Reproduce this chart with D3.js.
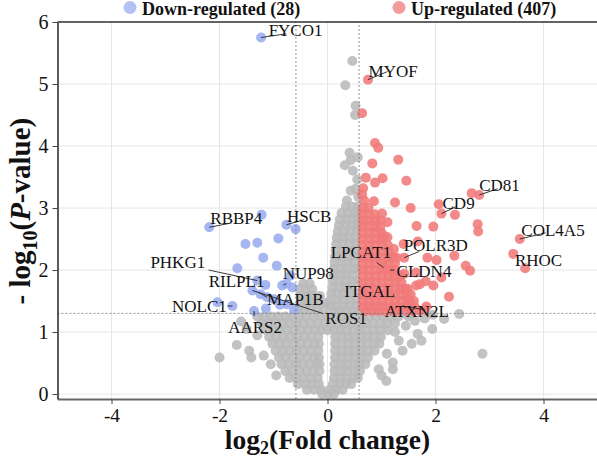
<!DOCTYPE html>
<html>
<head>
<meta charset="utf-8">
<script src="https://cdn.jsdelivr.net/npm/d3@7"></script>
<style>
  body { margin: 0; background: #fff; }
  svg { display: block; }
  svg text { font-family: "Liberation Serif", Tinos, "Times New Roman", Times, "DejaVu Serif", "Noto Serif", serif !important; }
</style>
</head>
<body>
<svg id="chart"></svg>
<script>
// volcano plot: log2 fold change vs -log10 p

var xTicks = [-4, -2, 0, 2, 4];
var yTicks = [0, 1, 2, 3, 4, 5, 6];
var fcCut = 0.585;   // log2(1.5)
var pCut = 1.3;      // -log10(0.05)

var legendLabels = ["Down-regulated (28)", "Up-regulated (407)"];

// not significant, sparse points [log2FC, -log10P]
var graySparse = [
  [0.46, 5.37], [0.33, 4.98], [0.52, 4.65], [0.51, 4.5], [0.41, 3.89], [0.43, 3.77],
  [0.56, 3.82], [0.32, 3.69], [0.47, 3.6], [0.55, 3.46], [0.43, 3.28], [0.52, 3.31],
  [0.57, 3.18], [0.36, 3.12],
  [-2.0, 0.59], [-1.68, 0.79], [-1.45, 0.7], [-1.41, 0.59], [-1.6, 1.17], [-1.05, 0.48],
  [-1.5, 1.05], [-1.3, 0.95], [-0.95, 0.3], [-1.18, 0.62],
  [2.87, 0.65], [2.44, 1.29], [2.16, 1.21], [1.94, 1.05], [1.74, 0.86], [1.56, 0.81],
  [1.39, 0.7], [1.21, 0.51], [1.09, 0.21], [1.21, 0.4], [1.67, 0.97], [1.32, 0.86],
  [1.45, 1.1], [1.62, 1.18], [1.8, 1.22], [1.1, 0.65], [0.95, 0.4], [1.25, 1.0],
  [1.0, 0.3], [1.55, 1.28], [1.95, 1.28]
];

// not significant, dense part: [-log10P, [log2FC ...]]
var grayRows = [
  [3.02, [0.34, 0.46, 0.56]],
  [2.92, [0.26, 0.38, 0.5, 0.57]],
  [2.82, [0.23, 0.35, 0.47, 0.57]],
  [2.72, [0.21, 0.33, 0.45, 0.56]],
  [2.62, [0.19, 0.31, 0.43, 0.55]],
  [2.52, [0.17, 0.29, 0.41, 0.53]],
  [2.42, [0.16, 0.28, 0.4, 0.52]],
  [2.32, [0.15, 0.27, 0.39, 0.51]],
  [2.22, [0.14, 0.26, 0.38, 0.5, 0.57]],
  [2.12, [0.13, 0.25, 0.37, 0.49]],
  [2.02, [0.12, 0.24, 0.36, 0.48, 0.57]],
  [1.92, [0.11, 0.23, 0.35, 0.47]],
  [1.82, [0.1, 0.22, 0.34, 0.46, 0.56]],
  [1.78, [-0.45, -0.33]],
  [1.72, [0.09, 0.21, 0.33, 0.45]],
  [1.69, [-0.52, -0.4, -0.28]],
  [1.62, [0.07, 0.19, 0.31, 0.43, 0.55]],
  [1.58, [-0.5, -0.38, -0.26, -0.14]],
  [1.52, [0.06, 0.18, 0.3, 0.42, 0.53]],
  [1.47, [-0.5, -0.38, -0.26, -0.14, -0.02]],
  [1.42, [0.05, 0.17, 0.29, 0.41, 0.53]],
  [1.36, [-0.55, -0.43, -0.31, -0.19, -0.07]],
  [1.34, [0.11, 0.23, 0.35, 0.47, 0.57]],
  [1.25, [-1.3, -1.17, -1.04, -0.91, -0.78, -0.65, -0.52, -0.39, -0.26, -0.13, 0.0, 0.13, 0.26, 0.39, 0.52, 0.65, 0.78, 0.91, 1.04, 1.17, 1.32, 1.5]],
  [1.14, [-1.22, -1.09, -0.96, -0.83, -0.7, -0.57, -0.44, -0.31, -0.18, -0.06, 0.07, 0.2, 0.33, 0.46, 0.59, 0.72, 0.85, 0.98, 1.11, 1.25]],
  [1.03, [-1.14, -1.01, -0.88, -0.75, -0.62, -0.49, -0.36, -0.23, -0.12, 0.0, 0.12, 0.24, 0.36, 0.48, 0.6, 0.72, 0.85, 0.98, 1.12]],
  [0.92, [-1.08, -0.95, -0.82, -0.69, -0.56, -0.43, -0.3, -0.17, 0.14, 0.26, 0.38, 0.5, 0.62, 0.74, 0.86, 0.99]],
  [0.81, [-1.02, -0.89, -0.76, -0.63, -0.5, -0.37, -0.24, -0.16, 0.14, 0.26, 0.38, 0.5, 0.62, 0.74, 0.86, 0.96]],
  [0.70, [-0.96, -0.83, -0.7, -0.57, -0.44, -0.31, -0.17, 0.14, 0.26, 0.38, 0.5, 0.62, 0.74, 0.87]],
  [0.59, [-0.9, -0.77, -0.64, -0.51, -0.38, -0.25, -0.16, 0.14, 0.26, 0.38, 0.5, 0.62, 0.75]],
  [0.48, [-0.85, -0.72, -0.59, -0.46, -0.33, -0.2, -0.15, 0.13, 0.25, 0.37, 0.49, 0.6, 0.7]],
  [0.37, [-0.78, -0.65, -0.52, -0.39, -0.26, -0.15, 0.13, 0.25, 0.37, 0.49, 0.6]],
  [0.26, [-0.7, -0.57, -0.44, -0.31, -0.18, 0.12, 0.24, 0.36, 0.48, 0.56]],
  [0.16, [-0.55, -0.42, -0.29, -0.16, 0.1, 0.22, 0.34, 0.44]],
  [0.07, [-0.38, -0.25, -0.12, 0.04, 0.16, 0.28]],
  [0.0, [-0.1, 0.02, 0.12]]
];

// up-regulated, sparse points
var upSparse = [
  [0.75, 5.07], [0.64, 4.53], [0.88, 4.05], [0.94, 3.97], [1.31, 3.78], [0.83, 3.72],
  [0.71, 3.49], [0.88, 3.41], [1.02, 3.48], [1.46, 3.44], [0.66, 3.32], [0.86, 3.11],
  [0.68, 3.12], [1.25, 3.09], [1.01, 2.91], [1.54, 3.0], [1.11, 2.77], [1.65, 2.71],
  [1.96, 2.7], [2.06, 3.06], [2.11, 2.91], [2.36, 2.89], [2.67, 3.24], [2.81, 3.21],
  [2.78, 2.74], [2.79, 2.62], [3.56, 2.5], [3.44, 2.26], [3.66, 2.03], [1.67, 2.46],
  [1.41, 2.42], [1.85, 2.2], [2.02, 2.16], [2.35, 2.23], [2.56, 2.07], [2.64, 1.99],
  [2.11, 1.88], [1.96, 1.75], [2.25, 1.57], [1.64, 1.75], [1.45, 1.68], [1.54, 1.61],
  [1.28, 2.2], [1.11, 2.53], [1.23, 2.34], [1.42, 1.94], [1.05, 2.55], [1.64, 1.96],
  [1.82, 1.82], [1.83, 1.41], [1.52, 1.52], [1.71, 1.77], [1.42, 2.2], [1.8, 1.36],
  [1.16, 2.0], [1.04, 2.04]
];

// up-regulated, dense part
var upRows = [
  [3.22, [0.64]],
  [3.0, [0.65, 0.76]],
  [2.9, [0.65, 0.77, 0.88]],
  [2.8, [0.65, 0.77, 0.89, 0.98]],
  [2.7, [0.65, 0.77, 0.89, 0.98]],
  [2.6, [0.65, 0.77, 0.89, 1.0]],
  [2.5, [0.65, 0.77, 0.89, 1.01]],
  [2.4, [0.65, 0.77, 0.89, 1.01, 1.12]],
  [2.3, [0.65, 0.77, 0.89, 1.01, 1.13]],
  [2.2, [0.65, 0.77, 0.89, 1.01, 1.13, 1.22]],
  [2.1, [0.65, 0.77, 0.89, 1.01, 1.13, 1.25]],
  [2.0, [0.65, 0.77, 0.89, 1.01, 1.13, 1.25]],
  [1.9, [0.65, 0.77, 0.89, 1.01, 1.13, 1.25, 1.35]],
  [1.8, [0.65, 0.77, 0.89, 1.01, 1.13, 1.25, 1.37]],
  [1.7, [0.65, 0.77, 0.89, 1.01, 1.13, 1.25, 1.37, 1.48]],
  [1.6, [0.65, 0.77, 0.89, 1.01, 1.13, 1.25, 1.37, 1.47]],
  [1.5, [0.65, 0.77, 0.89, 1.01, 1.13, 1.25, 1.37, 1.49, 1.6]],
  [1.4, [0.65, 0.77, 0.89, 1.01, 1.13, 1.25, 1.37, 1.49, 1.62]],
  [1.34, [0.7, 0.82, 0.94, 1.06, 1.18, 1.3, 1.44, 1.56, 1.7]]
];

// down-regulated (28)
var downPts = [
  [-1.23, 5.75], [-2.19, 2.69], [-1.22, 2.89], [-0.76, 2.73], [-0.59, 2.66], [-1.52, 2.42],
  [-1.3, 2.44], [-0.91, 2.51], [-1.19, 2.2], [-1.67, 2.03], [-0.94, 2.07], [-1.3, 1.83],
  [-1.15, 1.76], [-0.84, 1.75], [-0.69, 1.91], [-1.24, 1.61], [-1.12, 1.56], [-0.99, 1.53],
  [-2.04, 1.48], [-1.76, 1.42], [-1.36, 1.34], [-1.14, 1.38], [-0.88, 1.44], [-0.75, 1.45],
  [-0.65, 1.72], [-0.62, 1.36], [-1.39, 1.67], [-0.76, 1.78]
];

// gene labels: name, point, text anchor (left/baseline), leader end (or null)
var geneNames = ["FYCO1", "MYOF", "CD81", "CD9", "COL4A5", "RHOC", "POLR3D", "CLDN4", "LPCAT1",
  "ITGAL", "ATXN2L", "HSCB", "RBBP4", "PHKG1", "RILPL1", "NUP98", "MAP1B", "ROS1", "NOLC1", "AARS2"];
var genePoint = [[-1.23, 5.75], [0.75, 5.07], [2.81, 3.21], [2.11, 2.91], [3.56, 2.5], [3.66, 2.03],
  [1.42, 2.2], [1.16, 2.0], [1.04, 2.04], [0.9, 1.6], [1.8, 1.36], [-0.76, 2.73], [-2.19, 2.69],
  [-1.3, 1.83], [-1.12, 1.56], [-0.76, 1.78], [-0.99, 1.53], [-1.39, 1.67], [-1.76, 1.42], [-1.36, 1.34]];
var geneText = [[-1.09, 5.77], [0.76, 5.12], [2.81, 3.27], [2.13, 2.98], [3.59, 2.55], [3.47, 2.07],
  [1.41, 2.3], [1.28, 1.88], [0.06, 2.19], [0.31, 1.57], [1.06, 1.24], [-0.75, 2.78], [-2.17, 2.74],
  [-3.28, 2.04], [-2.2, 1.73], [-0.83, 1.85], [-1.12, 1.44], [-0.04, 1.13], [-2.88, 1.32], [-1.84, 0.99]];
var geneLeader = [[-0.76, 5.81], [1.11, 5.2], [3.15, 3.31], [2.4, 3.03], [4.04, 2.6], null,
  [1.7, 2.3], [1.24, 2.0], [0.91, 2.12], null, [1.38, 1.42], [-0.44, 2.81], [-1.83, 2.75],
  [-2.2, 2.0], [-1.27, 1.64], [-0.81, 1.76], null, [-0.09, 1.3], [-1.85, 1.42], [-1.36, 1.26]];

var width = 597;
var height = 460;
var grayCol = "#bababa", upCol = "#f07a7a", downCol = "#9aacef";
var r = 5;
var alpha = 0.88;

function flatten(rows, sparse) {
  var out = sparse.slice();
  rows.forEach(row => row[1].forEach(v => out.push([v, row[0]])));
  return out;
}
var grayPts = flatten(grayRows, graySparse);
var upPts = flatten(upRows, upSparse);

var x = d3.scaleLinear().domain([-5, 5]).range([57.5, 597.5]);
var y = d3.scaleLinear().domain([-0.08, 6]).range([399, 22]);

var svg = d3.select("#chart")
    .attr("width", width)
    .attr("height", height);

// grid
svg.append("g").selectAll("line")
    .data(xTicks).enter().append("line")
    .attr("x1", d => x(d)).attr("x2", d => x(d))
    .attr("y1", y(-0.08)).attr("y2", y(6))
    .attr("stroke", "#e6e6e6").attr("stroke-width", 1);
svg.append("g").selectAll("line")
    .data(yTicks).enter().append("line")
    .attr("x1", x(-5)).attr("x2", x(5))
    .attr("y1", d => y(d)).attr("y2", d => y(d))
    .attr("stroke", "#e6e6e6").attr("stroke-width", 1);

// points
function drawPts(data, col) {
  svg.append("g").selectAll("circle")
      .data(data).enter().append("circle")
      .attr("cx", d => x(d[0]))
      .attr("cy", d => y(d[1]))
      .attr("r", r)
      .attr("fill", col)
      .attr("fill-opacity", alpha);
}
drawPts(grayPts, grayCol);
drawPts(upPts, upCol);
drawPts(downPts, downCol);

// threshold lines
var dash = svg.append("g")
    .attr("stroke", "#777").attr("stroke-width", 0.8).attr("stroke-dasharray", "2,2");
[-fcCut, fcCut].forEach(v => {
  dash.append("line")
      .attr("x1", x(v)).attr("x2", x(v))
      .attr("y1", y(-0.08)).attr("y2", y(6));
});
dash.append("line")
    .attr("x1", x(-5)).attr("x2", x(5))
    .attr("y1", y(pCut)).attr("y2", y(pCut));

// labels
var lab = svg.append("g");
geneNames.forEach((g, i) => {
  if (geneLeader[i]) {
    lab.append("line")
        .attr("x1", x(genePoint[i][0])).attr("y1", y(genePoint[i][1]))
        .attr("x2", x(geneLeader[i][0])).attr("y2", y(geneLeader[i][1]))
        .attr("stroke", "#222").attr("stroke-width", 0.9);
  }
  lab.append("text")
      .attr("x", x(geneText[i][0]))
      .attr("y", y(geneText[i][1]))
      .attr("font-size", 17)
      .attr("fill", "#111")
      .text(g);
});

// axes
var xAxis = svg.append("g")
    .attr("transform", "translate(0," + y(-0.08) + ")")
    .call(d3.axisBottom(x).tickValues(xTicks).tickSize(5).tickSizeOuter(0).tickPadding(4).tickFormat(d => String(d)));
xAxis.select(".domain").attr("stroke", "#666").attr("stroke-width", 2);
xAxis.selectAll(".tick line").attr("stroke", "#444");
xAxis.selectAll("text").attr("font-size", 19.5).attr("fill", "#111");

var yAxis = svg.append("g")
    .attr("transform", "translate(" + x(-5) + ",0)")
    .call(d3.axisLeft(y).tickValues(yTicks).tickSize(5).tickSizeOuter(0).tickPadding(4).tickFormat(d => String(d)));
yAxis.select(".domain").attr("stroke", "#333").attr("stroke-width", 1.6);
yAxis.selectAll(".tick line").attr("stroke", "#444");
yAxis.selectAll("text").attr("font-size", 20).attr("fill", "#111");

svg.append("line")
    .attr("x1", x(-5)).attr("x2", x(5))
    .attr("y1", y(6)).attr("y2", y(6))
    .attr("stroke", "#333").attr("stroke-width", 1.6);

// axis titles
var xt = svg.append("text")
    .attr("x", x(0)).attr("y", 449)
    .attr("text-anchor", "middle")
    .attr("font-size", 27.5).attr("font-weight", "bold").attr("fill", "#111");
xt.append("tspan").text("log");
xt.append("tspan").attr("font-size", 18).attr("dy", 5).text("2");
xt.append("tspan").attr("dy", -5).text("(Fold change)");

var yt = svg.append("text")
    .attr("transform", "translate(30," + y(2.95) + ") rotate(-90)")
    .attr("text-anchor", "middle")
    .attr("font-size", 29).attr("font-weight", "bold").attr("fill", "#111");
yt.append("tspan").text("- log");
yt.append("tspan").attr("font-size", 20).attr("dy", 7).text("10");
yt.append("tspan").attr("dy", -7).text("(");
yt.append("tspan").attr("font-style", "italic").text("P");
yt.append("tspan").text("-value)");

// legend
var legX = [130, 399];
var legCol = [downCol, upCol];
legendLabels.forEach((t, i) => {
  svg.append("circle")
      .attr("cx", legX[i]).attr("cy", 7.5).attr("r", 6.5)
      .attr("fill", legCol[i]).attr("fill-opacity", 0.75);
  svg.append("text")
      .attr("x", legX[i] + 12).attr("y", 15)
      .attr("font-size", 18).attr("font-weight", "bold").attr("fill", "#111")
      .text(t);
});
</script>
</body>
</html>
